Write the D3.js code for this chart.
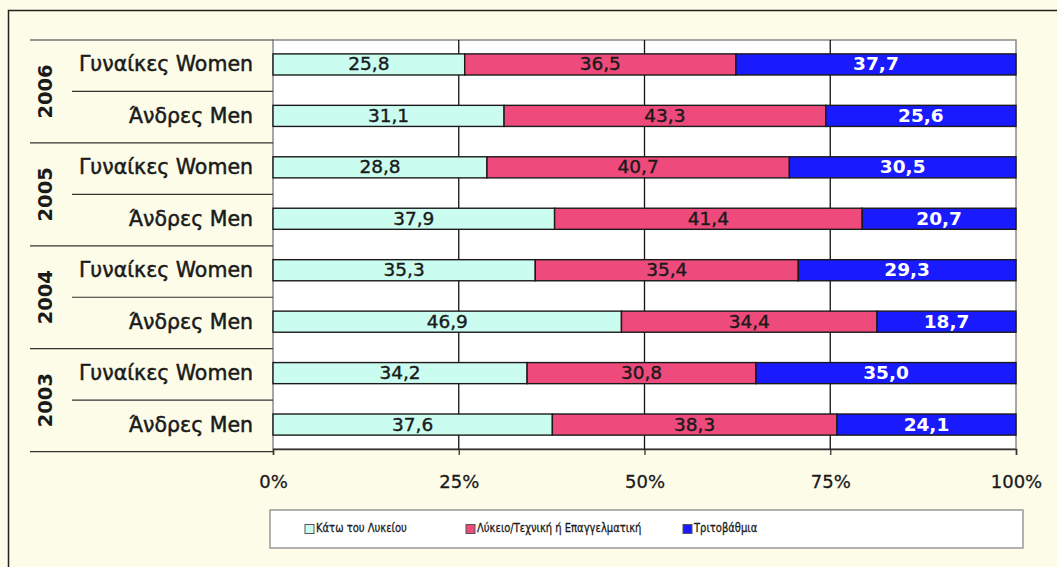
<!DOCTYPE html>
<html><head><meta charset="utf-8">
<script src="https://cdn.jsdelivr.net/npm/d3@7"></script>
<style>
html,body{margin:0;padding:0;background:#fdfce9;}
svg{display:block;}
</style></head>
<body>
<script>
// Data
const years = ["2006","2005","2004","2003"];
const genders = ["Γυναίκες Women","Άνδρες Men"];
const seriesNames = ["Κάτω του Λυκείου","Λύκειο/Τεχνική ή Επαγγελματική","Τριτοβάθμια"];
const below = [25.8, 31.1, 28.8, 37.9, 35.3, 46.9, 34.2, 37.6];   // order: 2006W,2006M,2005W,2005M,...
const upper = [36.5, 43.3, 40.7, 41.4, 35.4, 34.4, 30.8, 38.3];
const tertiary = [37.7, 25.6, 30.5, 20.7, 29.3, 18.7, 35.0, 24.1];
const ticks = [0, 25, 50, 75, 100];
const colors = ["#cbfcf0", "#ee4a7c", "#1a1aff"];
const labelColors = ["#1a1a1a", "#1a1a1a", "#ffffff"];

const W = 1057, H = 567;
const svg = d3.select("body").append("svg").attr("width", W).attr("height", H);

// outer frame
svg.append("rect").attr("x", 8.5).attr("y", 10.5).attr("width", 1100).attr("height", 700)
  .attr("fill", "#fdfce9").attr("stroke", "#222").attr("stroke-width", 1.5);

const pLeft = 273, pRight = 1016, pTop = 40, pBottom = 449;
const rows = [];
years.forEach(yr => genders.forEach(g => rows.push(yr + "|" + g)));
const data = rows.map((k, i) => ({key: k, year: k.split("|")[0], gender: k.split("|")[1],
  vals: [below[i], upper[i], tertiary[i]]}));

const x = d3.scaleLinear().domain([0, 100]).range([pLeft, pRight]);
const y = d3.scaleBand().domain(rows).range([pTop, pBottom]).paddingInner(0.59).paddingOuter(0.27);
const step = y.step();

// plot area
svg.append("rect").attr("x", pLeft).attr("y", pTop).attr("width", pRight - pLeft).attr("height", pBottom - pTop)
  .attr("fill", "#ffffff").attr("stroke", "#8a8a8a").attr("stroke-width", 1.5);

// gridlines
svg.append("g").selectAll("line").data(ticks.filter(t => t > 0 && t < 100)).join("line")
  .attr("x1", d => x(d)).attr("x2", d => x(d)).attr("y1", pTop).attr("y2", pBottom)
  .attr("stroke", "#111").attr("stroke-width", 1.3);

// bars
const stackData = data.map(d => {
  let acc = 0;
  return d.vals.map((v, j) => { const s = acc; acc += v; return {key: d.key, v, j, s, e: acc}; });
});
const segs = stackData.flat();
svg.append("g").selectAll("rect").data(segs).join("rect")
  .attr("x", d => x(d.s)).attr("width", d => x(Math.min(d.e, 100)) - x(d.s))
  .attr("y", d => y(d.key)).attr("height", y.bandwidth())
  .attr("fill", d => colors[d.j]).attr("stroke", "#1a1a1a").attr("stroke-width", 1.4);

svg.append("g").selectAll("text").data(segs).join("text")
  .attr("x", d => x((d.s + Math.min(d.e, 100)) / 2)).attr("y", d => y(d.key) + y.bandwidth() / 2 + 1)
  .attr("text-anchor", "middle").attr("dominant-baseline", "middle")
  .attr("font-family", "DejaVu Sans").attr("font-size", 18.5)
  .attr("font-weight", d => d.j === 2 ? "bold" : "normal")
  .attr("fill", d => labelColors[d.j])
  .attr("stroke", d => d.j === 2 ? "none" : "#1a1a1a").attr("stroke-width", 0.4)
  .text(d => d3.format(".1f")(d.v).replace(".", ","));

// x axis
const xAxis = svg.append("g").attr("transform", `translate(0,${pBottom})`)
  .call(d3.axisBottom(x).tickValues(ticks).tickFormat(d => d + "%").tickSize(6).tickPadding(20));
xAxis.select(".domain").attr("stroke", "#333").attr("stroke-width", 1.5);
xAxis.selectAll(".tick line").attr("stroke", "#333").attr("stroke-width", 1.3);
xAxis.selectAll(".tick text").attr("font-family", "DejaVu Sans").attr("font-size", 18).attr("fill", "#1a1a1a")
  .attr("stroke", "#1a1a1a").attr("stroke-width", 0.3);

// category axis: separators and labels
const sep = svg.append("g").attr("stroke", "#333").attr("stroke-width", 1.2);
for (let k = 0; k <= rows.length; k++) {
  const yy = pTop + k * step;
  const isGroup = k % 2 === 0;
  sep.append("line").attr("x1", isGroup ? 30 : 72).attr("x2", pLeft).attr("y1", yy).attr("y2", yy);
}
svg.append("g").selectAll("text").data(data).join("text")
  .attr("x", 253).attr("y", d => y(d.key) + y.bandwidth() / 2 + 1)
  .attr("text-anchor", "end").attr("dominant-baseline", "middle")
  .attr("font-family", "DejaVu Sans").attr("font-size", 20.5).attr("fill", "#1a1a1a")
  .attr("stroke", "#1a1a1a").attr("stroke-width", 0.5)
  .text(d => d.gender);
svg.append("g").selectAll("text").data(years).join("text")
  .attr("transform", (d, i) => `translate(52,${pTop + (2 * i + 1) * step}) rotate(-90)`)
  .attr("text-anchor", "middle")
  .attr("font-family", "DejaVu Sans").attr("font-weight", "bold").attr("font-size", 19.5).attr("fill", "#1a1a1a")
  .text(d => d);

// legend
svg.append("rect").attr("x", 270).attr("y", 510).attr("width", 753).attr("height", 38)
  .attr("fill", "#ffffff").attr("stroke", "#999").attr("stroke-width", 1.5);
const legX = [305, 466, 683];
const leg = svg.append("g").selectAll("g").data(seriesNames).join("g")
  .attr("transform", (d, i) => `translate(${legX[i]},529)`);
leg.append("rect").attr("x", 0).attr("y", -4.5).attr("width", 9).attr("height", 9)
  .attr("fill", (d, i) => colors[i]).attr("stroke", "#555").attr("stroke-width", 1);
leg.append("text").attr("transform", "translate(11,0) scale(0.8,1)").attr("dominant-baseline", "middle")
  .attr("font-family", "DejaVu Sans")
  .attr("font-size", 12.5).attr("fill", "#1a1a1a").attr("stroke", "#1a1a1a").attr("stroke-width", 0.3)
  .text(d => d);
</script>
</body></html>
